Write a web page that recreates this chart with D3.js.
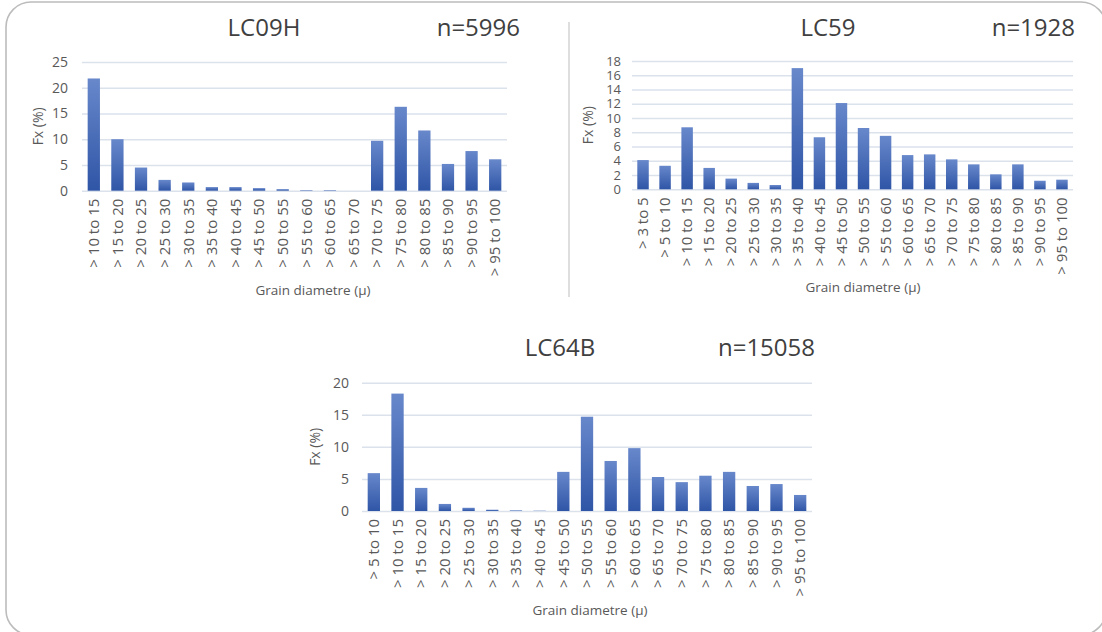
<!DOCTYPE html>
<html>
<head>
<meta charset="utf-8">
<script src="https://cdn.jsdelivr.net/npm/d3@7"></script>
<style>
  html, body { margin: 0; padding: 0; background: #fff; }
  svg { display: block; }
  text { font-family: "Open Sans", "Noto Sans", sans-serif; }
</style>
</head>
<body>
<svg id="fig" width="1102" height="632"></svg>
<script>
// Grain size distributions (frequency %, by diameter class)
const lc09hCategories = ["> 10 to 15", "> 15 to 20", "> 20 to 25", "> 25 to 30", "> 30 to 35", "> 35 to 40",
  "> 40 to 45", "> 45 to 50", "> 50 to 55", "> 55 to 60", "> 60 to 65", "> 65 to 70",
  "> 70 to 75", "> 75 to 80", "> 80 to 85", "> 85 to 90", "> 90 to 95", "> 95 to 100"];
const lc09hValues = [21.8, 10.0, 4.5, 2.1, 1.6, 0.7, 0.7, 0.5, 0.3, 0.1, 0.1, 0.0,
  9.7, 16.3, 11.7, 5.2, 7.7, 6.1];
const lc09hTicks = [0, 5, 10, 15, 20, 25];

const lc59Categories = ["> 3 to 5", "> 5 to 10", "> 10 to 15", "> 15 to 20", "> 20 to 25", "> 25 to 30",
  "> 30 to 35", "> 35 to 40", "> 40 to 45", "> 45 to 50", "> 50 to 55", "> 55 to 60",
  "> 60 to 65", "> 65 to 70", "> 70 to 75", "> 75 to 80", "> 80 to 85", "> 85 to 90",
  "> 90 to 95", "> 95 to 100"];
const lc59Values = [4.1, 3.3, 8.7, 3.0, 1.5, 0.9, 0.6, 17.0, 7.3, 12.1, 8.6, 7.5,
  4.8, 4.9, 4.2, 3.5, 2.1, 3.5, 1.2, 1.35];
const lc59Ticks = [0, 2, 4, 6, 8, 10, 12, 14, 16, 18];

const lc64bCategories = ["> 5 to 10", "> 10 to 15", "> 15 to 20", "> 20 to 25", "> 25 to 30", "> 30 to 35",
  "> 35 to 40", "> 40 to 45", "> 45 to 50", "> 50 to 55", "> 55 to 60", "> 60 to 65",
  "> 65 to 70", "> 70 to 75", "> 75 to 80", "> 80 to 85", "> 85 to 90", "> 90 to 95", "> 95 to 100"];
const lc64bValues = [5.9, 18.3, 3.6, 1.1, 0.5, 0.2, 0.1, 0.05, 6.1, 14.7, 7.8, 9.8,
  5.3, 4.5, 5.5, 6.1, 3.9, 4.2, 2.5];
const lc64bTicks = [0, 5, 10, 15, 20];

const svg = d3.select("#fig");

// outer rounded frame
svg.append("rect")
  .attr("x", 6).attr("y", 2).attr("width", 1100).attr("height", 633)
  .attr("rx", 25).attr("ry", 25)
  .attr("fill", "#fff").attr("stroke", "#bcbcbc").attr("stroke-width", 1.6);

// divider between the two upper panels
svg.append("line")
  .attr("x1", 569).attr("x2", 569).attr("y1", 22).attr("y2", 297)
  .attr("stroke", "#c8c8c8").attr("stroke-width", 1.2);

// bar fill gradient
const defs = svg.append("defs");
const grad = defs.append("linearGradient")
  .attr("id", "barFill").attr("x1", 0).attr("y1", 0).attr("x2", 0).attr("y2", 1);
grad.append("stop").attr("offset", "0%").attr("stop-color", "#6888cb");
grad.append("stop").attr("offset", "100%").attr("stop-color", "#2f55a6");

function drawPanel(cfg) {
  const g = svg.append("g");
  const x = d3.scaleBand()
    .domain(cfg.categories)
    .range([cfg.left, cfg.right])
    .paddingInner(0.48).paddingOuter(0.24);
  const y = d3.scaleLinear()
    .domain([0, d3.max(cfg.ticks)])
    .range([cfg.bottom, cfg.top]);

  // gridlines + y tick labels
  const yAxis = d3.axisLeft(y).tickValues(cfg.ticks)
    .tickSize(-(cfg.right - cfg.left)).tickPadding(cfg.labelGap);
  const ya = g.append("g").attr("transform", `translate(${cfg.left},0)`).call(yAxis);
  ya.select(".domain").remove();
  ya.selectAll(".tick line").attr("stroke", "#dbe2ec").attr("stroke-width", 1.5);
  ya.selectAll(".tick text")
    .attr("fill", "#595959").style("font-size", cfg.tickFont)
    .style("font-family", "'Open Sans', sans-serif");

  // bars
  g.selectAll("rect.bar")
    .data(cfg.values)
    .join("rect")
    .attr("class", "bar")
    .attr("x", (d, i) => x(cfg.categories[i]))
    .attr("width", x.bandwidth())
    .attr("y", d => y(d))
    .attr("height", d => y(0) - y(d))
    .attr("fill", "url(#barFill)");

  // category labels
  const xAxis = d3.axisBottom(x).tickSize(0).tickPadding(0);
  const xa = g.append("g").attr("transform", `translate(0,${cfg.bottom})`).call(xAxis);
  xa.select(".domain").remove();
  xa.selectAll(".tick text")
    .attr("transform", "rotate(-90)")
    .attr("x", -8).attr("y", 0).attr("dy", "0.35em")
    .attr("text-anchor", "end")
    .attr("fill", "#595959").style("font-size", "15px")
    .style("font-family", "'Open Sans', sans-serif");

  // axis titles
  g.append("text")
    .attr("transform", `translate(${cfg.yTitleX},${(cfg.top + cfg.bottom) / 2}) rotate(-90)`)
    .attr("text-anchor", "middle").attr("dy", "0.35em")
    .attr("fill", "#595959").style("font-size", "14px")
    .text("Fx (%)");
  g.append("text")
    .attr("x", cfg.xTitleX).attr("y", cfg.xTitleY)
    .attr("text-anchor", "middle")
    .attr("fill", "#595959").style("font-size", "13.5px")
    .text("Grain diametre (\u03bc)");

  // sample name and count
  g.append("text")
    .attr("x", cfg.titleX).attr("y", cfg.titleY)
    .attr("text-anchor", "middle")
    .attr("fill", "#404040").style("font-size", "24px")
    .text(cfg.title);
  g.append("text")
    .attr("x", cfg.countX).attr("y", cfg.titleY)
    .attr("text-anchor", "end")
    .attr("fill", "#404040").style("font-size", "24px")
    .text(cfg.count);
}

drawPanel({
  categories: lc09hCategories, values: lc09hValues, ticks: lc09hTicks, tickFont: "14px",
  left: 82, right: 507, top: 62, bottom: 190.7, labelGap: 14,
  yTitleX: 38, xTitleX: 313, xTitleY: 295,
  title: "LC09H", titleX: 264, titleY: 36, count: "n=5996", countX: 520
});

drawPanel({
  categories: lc59Categories, values: lc59Values, ticks: lc59Ticks, tickFont: "13px",
  left: 632, right: 1073, top: 61, bottom: 189.3, labelGap: 11,
  yTitleX: 588, xTitleX: 863, xTitleY: 292,
  title: "LC59", titleX: 828, titleY: 36, count: "n=1928", countX: 1075
});

drawPanel({
  categories: lc64bCategories, values: lc64bValues, ticks: lc64bTicks, tickFont: "14px",
  left: 362, right: 812, top: 382.7, bottom: 511, labelGap: 13,
  yTitleX: 315, xTitleX: 590, xTitleY: 615,
  title: "LC64B", titleX: 560, titleY: 356, count: "n=15058", countX: 815
});
</script>
</body>
</html>
